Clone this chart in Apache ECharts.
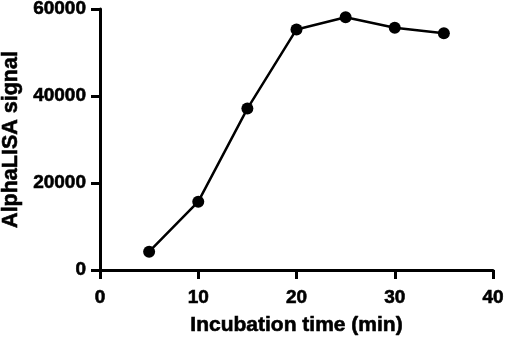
<!DOCTYPE html>
<html><head><meta charset="utf-8">
<script src="https://cdn.jsdelivr.net/npm/echarts@6/dist/echarts.min.js"></script>
<style>html,body{margin:0;padding:0;background:#fff}#c{width:505px;height:342px}</style>
</head><body><div id="c"></div>
<script>
const times = [5, 10, 15, 20, 25, 30, 35];
const signal = [4200, 15700, 37100, 55300, 58100, 55700, 54400];
const xTitle = 'Incubation time (min)';
const yTitle = 'AlphaLISA signal';

const chart = echarts.init(document.getElementById('c'), null, {renderer: 'canvas'});
const font = '"Liberation Sans", Arial, sans-serif';
const axisCommon = {
  axisLine: {show: true, lineStyle: {color: '#000', width: 3}},
  axisTick: {show: true, length: 9, lineStyle: {color: '#000', width: 3}},
  splitLine: {show: false},
  axisLabel: {color: '#000', fontFamily: font, fontWeight: 'bold', fontSize: 19,
    textBorderColor: '#000', textBorderWidth: 0.6, formatter: v => String(v)},
  nameTextStyle: {color: '#000', fontFamily: font, fontWeight: 'bold', fontSize: 21,
    textBorderColor: '#000', textBorderWidth: 0.6}
};
chart.setOption({
  animation: false,
  grid: {left: 100, right: 12, top: 9, bottom: 72, containLabel: false, outerBoundsMode: 'none'},
  xAxis: Object.assign({}, axisCommon, {
    type: 'value', min: 0, max: 40, interval: 10,
    name: xTitle, nameLocation: 'middle', nameGap: 45,
    axisLabel: Object.assign({}, axisCommon.axisLabel, {margin: 18})
  }),
  yAxis: Object.assign({}, axisCommon, {
    type: 'value', min: 0, max: 60000, interval: 20000,
    name: yTitle, nameLocation: 'middle', nameGap: 77,
    nameTextStyle: Object.assign({}, axisCommon.nameTextStyle, {fontSize: 21.5}),
    axisLabel: Object.assign({}, axisCommon.axisLabel, {margin: 14})
  }),
  series: [{
    type: 'line',
    data: times.map((t, i) => [t, signal[i]]),
    symbol: 'circle', symbolSize: 12,
    itemStyle: {color: '#000'},
    lineStyle: {color: '#000', width: 2.5}
  }]
});
</script></body></html>
